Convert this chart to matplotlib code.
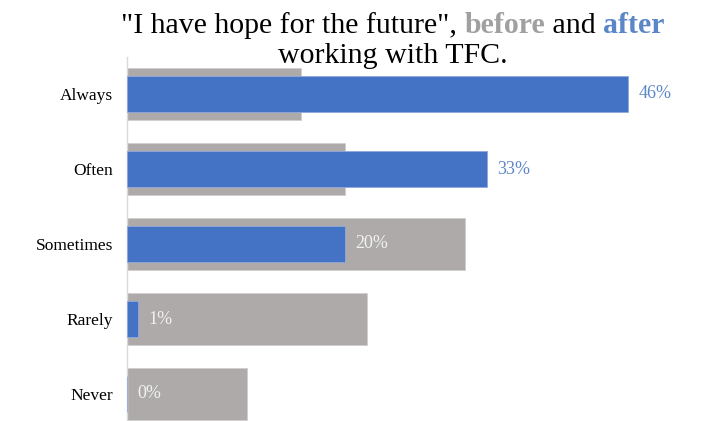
import matplotlib
matplotlib.use("Agg")
import matplotlib.pyplot as plt
import numpy as np

# Survey responses, share of respondents (%)
categories = ["Always", "Often", "Sometimes", "Rarely", "Never"]
before_pct = [16, 20, 31, 22, 11]
after_pct = [46, 33, 20, 1, 0]

GRAY = "#AEAAAA"
BLUE = "#4472C4"
BLUE_TXT = "#5B87C8"
TITLE_GRAY = "#A0A0A0"
SERIF = ["Liberation Serif", "DejaVu Serif"]

W, H, DPI = 709, 421, 100
fig = plt.figure(figsize=(W / DPI, H / DPI), dpi=DPI)

# axes placed in pixel terms (y measured from top)
ax_left, ax_top, ax_w, ax_h = 127, 56.5, 560, 375
ax = fig.add_axes([ax_left / W, 1 - (ax_top + ax_h) / H, ax_w / W, ax_h / H])

px_per_pct = 10.9
ax.set_xlim(0, ax_w / px_per_pct)
y = np.arange(len(categories))
ax.set_ylim(len(categories) - 0.5, -0.5)

ax.barh(y, before_pct, height=0.69, color=GRAY, edgecolor="#D0CECE", linewidth=0.6, zorder=2)
ax.barh(y, after_pct, height=0.48, color=BLUE, edgecolor="#8FAADC", linewidth=0.6, zorder=3)

for yi, a, b in zip(y, after_pct, before_pct):
    inside = b > a + 4
    ax.text(a + 0.95, yi, f"{a}%", va="center", ha="left",
            fontsize=13, family=SERIF,
            color="#F2F2F2" if inside else BLUE_TXT, zorder=4)

ax.set_yticks(y)
ax.set_yticklabels(categories, fontsize=12.5, family=SERIF)
ax.tick_params(axis="y", length=0, pad=10)
ax.set_xticks([])
for s in ("top", "right", "bottom"):
    ax.spines[s].set_visible(False)
ax.spines["left"].set_color("#D9D9D9")
ax.spines["left"].set_linewidth(1.0)

# Title with coloured words, built piece by piece
title_size = 21.5
line1 = [('"I have hope for the future", ', "black", "normal"),
         ("before", TITLE_GRAY, "bold"),
         (" and ", "black", "normal"),
         ("after", BLUE_TXT, "bold")]
fig.canvas.draw()
renderer = fig.canvas.get_renderer()
texts, widths = [], []
for s, c, wgt in line1:
    t = fig.text(0, 0, s, fontsize=title_size, family=SERIF, color=c,
                 weight=wgt, va="baseline", ha="left")
    bb = t.get_window_extent(renderer)
    texts.append(t)
    widths.append(bb.width)
total = sum(widths)
cx = 393
x0 = cx - total / 2
base1 = H - 33
for t, w in zip(texts, widths):
    t.set_position((x0 / W, base1 / H))
    x0 += w
fig.text(cx / W, (H - 63) / H, "working with TFC.", fontsize=title_size,
         family=SERIF, color="black", ha="center", va="baseline")

fig.savefig("out.png", dpi=DPI)
